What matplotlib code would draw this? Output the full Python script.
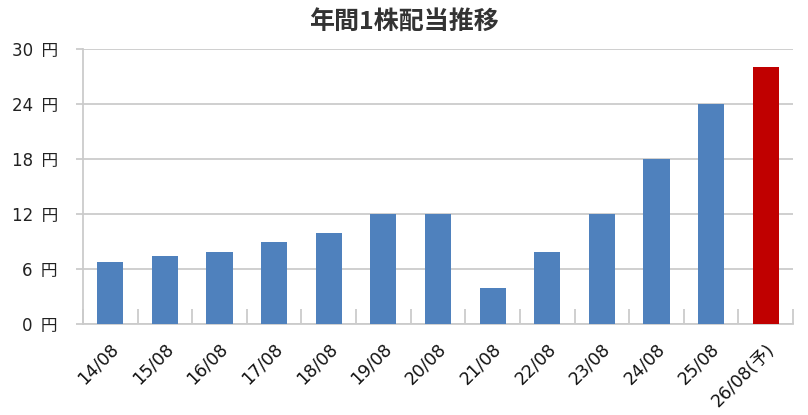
import matplotlib
matplotlib.use('Agg')
import matplotlib.pyplot as plt
import numpy as np

plt.rcParams['font.family'] = ['DejaVu Sans', 'Noto Sans CJK JP']

# 決算期と1株配当（円）
periods = ['14/08', '15/08', '16/08', '17/08', '18/08', '19/08', '20/08',
           '21/08', '22/08', '23/08', '24/08', '25/08', '26/08(予)']
dividends = [6.8, 7.4, 7.9, 9.0, 9.9, 12, 12, 3.9, 7.9, 12, 18, 24, 28]
is_forecast = [False] * 12 + [True]

y_ticks = [0, 6, 12, 18, 24, 30]

colors = ['#c00000' if f else '#4f81bd' for f in is_forecast]
grid_c = '#cbcbcb'

fig = plt.figure(figsize=(8.08, 4.15), dpi=100)
ax = fig.add_axes([83 / 808, 1 - 324 / 415, (793 - 83) / 808, (324 - 49) / 415])

x = np.arange(len(periods))
ax.bar(x, dividends, width=0.48, color=colors, zorder=3)

ax.set_xlim(-0.5, len(periods) - 0.5)
ax.set_ylim(0, 30)
ax.set_yticks(y_ticks)
ax.set_yticklabels([f'{v}\u2002円' for v in y_ticks], fontsize=12, color='#222222')
ax.yaxis.grid(True, color=grid_c, linewidth=1.3, zorder=0)

# カテゴリ境界の目盛り
ax.set_xticks(np.arange(len(periods) + 1) - 0.5)
ax.set_xticklabels([])
ax.tick_params(axis='x', direction='in', length=11, color=grid_c, width=1.3)
ax.tick_params(axis='y', direction='out', length=5, color=grid_c, width=1.3, pad=13)

for xi, lab in zip(x, periods):
    ax.text(xi - 0.01, -1.75, lab, rotation=45, ha='right', va='top',
            fontsize=12.5, color='#111111', rotation_mode='anchor')

for side in ['top', 'right']:
    ax.spines[side].set_visible(False)
for side in ['left', 'bottom']:
    ax.spines[side].set_color(grid_c)
    ax.spines[side].set_linewidth(1.3)

fig.text(0.5, 1 - 22 / 415, '年間1株配当推移', ha='center', va='center',
         fontsize=18, fontweight='bold', color='#333333',
         family=['Noto Sans CJK JP', 'DejaVu Sans'])

plt.savefig('out.png', dpi=100)
